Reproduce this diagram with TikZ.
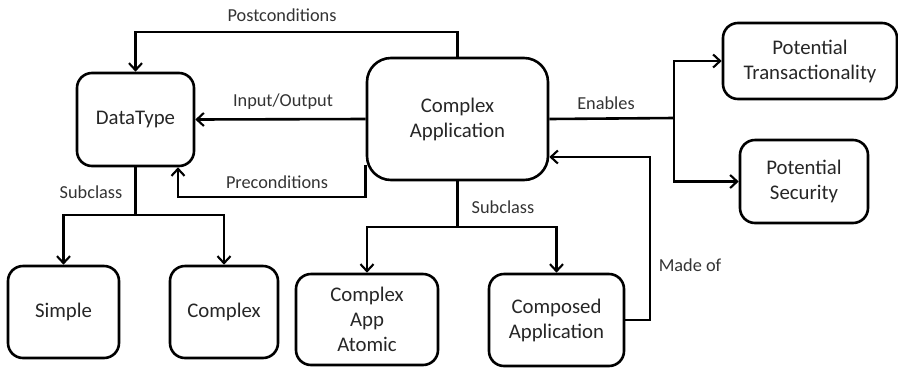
\documentclass[tikz,border=0pt]{standalone}
\usepackage{fontspec}
\setmainfont{Carlito}
\usetikzlibrary{arrows.meta}
\begin{document}
\begin{tikzpicture}[x=1pt,y=-1pt,
  line width=2.6pt,
  >={Straight Barb[length=7pt,width=13pt,line width=2.1pt]},
  box/.style={draw,rounded corners=15pt,align=center,inner sep=0pt,
    font=\fontsize{20.8}{25}\selectfont,text=black!85},
  lbl/.style={font=\fontsize{18.3}{20}\selectfont,text=black!80,inner sep=0pt}]
\useasboundingbox (0,0) rectangle (898,368);
% nodes
\node[box,minimum width=117pt,minimum height=93pt] (DT) at (135.5,119.5) {DataType};
\node[box,rounded corners=24pt,minimum width=181pt,minimum height=122pt] (CA) at (457.5,119) {Complex\\Application};
\node[box,minimum width=174pt,minimum height=76pt] (PT) at (810,61) {Potential\\Transactionality};
\node[box,minimum width=128pt,minimum height=83pt] (PS) at (804,181.5) {Potential\\Security};
\node[box,minimum width=111pt,minimum height=92pt] (S) at (63.5,312) {Simple};
\node[box,minimum width=108pt,minimum height=92pt] (C) at (224,312) {Complex};
\node[box,minimum width=142pt,minimum height=91pt] (CAA) at (367,319.5) {Complex\\App\\Atomic};
\node[box,minimum width=135pt,minimum height=92pt] (CompA) at (556.5,320) {Composed\\Application};
% helper coordinates
\coordinate (ptop) at (0,32);
\coordinate (pre) at (178,197);
\coordinate (dsplit) at (135.5,215);
\coordinate (csplit) at (457.5,227);
\coordinate (mo) at (650,157);
\coordinate (en) at (674,118);
% connectors
\draw[->] (CA.north) |- (ptop -| DT.north) -- (DT.north);
\draw[->] (CA.west) -- (DT.east);
\draw[->] ([yshift=-46pt]CA.west) |- (pre) -- ([xshift=42.5pt]DT.south);
\draw (DT.south) -- (dsplit);
\draw[->] (dsplit) -| (S.north);
\draw[->] (dsplit) -| (C.north);
\draw (CA.south) -- (csplit);
\draw[->] (csplit) -| (CAA.north);
\draw[->] (csplit) -| (CompA.north);
\draw[->] (CompA.east) -| (mo) -- (mo -| CA.east);
\draw (CA.east) -- (en);
\draw[->] (en) |- (PT.west);
\draw[->] (en) |- (PS.west);
% labels
\node[lbl] (l1) at (282,15) {Postconditions};
\node[lbl] (l2) at (283,102) {Input/Output};
\node[lbl] (l3) at (277,182) {Preconditions};
\node[lbl] (l4) at (91,192) {Subclass};
\node[lbl] (l5) at (503,207) {Subclass};
\node[lbl] (l6) at (606,103) {Enables};
\node[lbl] (l7) at (690,265) {Made of};
\end{tikzpicture}
\end{document}
